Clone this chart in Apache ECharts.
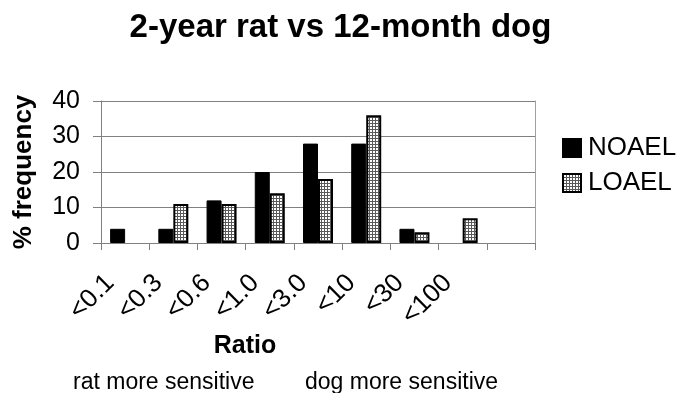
<!DOCTYPE html>
<html>
<head>
<meta charset="utf-8">
<script src="https://cdn.jsdelivr.net/npm/echarts@6/dist/echarts.min.js"></script>
<style>
  html, body { margin: 0; padding: 0; background: #fff; }
  #chart { width: 681px; height: 393px; }
</style>
</head>
<body>
<div id="chart"></div>
<script>
// Ratio bins (the last slot is an unlabelled empty bin)
const categories = ['<0.1', '<0.3', '<0.6', '<1.0', '<3.0', '<10', '<30', '<100', ''];
// % frequency per bin
const noael = [4, 4, 12, 20, 28, 28, 4, 0, null];
const loael = [0, 11, 11, 14, 18, 36, 3, 7, null];
const yTicks = { min: 0, max: 40, interval: 10 };

// Fine mesh fill used for the LOAEL bars
function meshPattern() {
  const c = document.createElement('canvas');
  c.width = 3; c.height = 3;
  const g = c.getContext('2d');
  g.fillStyle = '#ffffff';
  g.fillRect(0, 0, 3, 3);
  g.fillStyle = '#5a5a5a';
  g.fillRect(0, 0, 3, 1);
  g.fillRect(0, 0, 1, 3);
  return { image: c, repeat: 'repeat' };
}

// Zero-height bars get no outline so nothing is drawn for them
function barData(values) {
  return values.map(v => (v === 0 ? { value: 0, itemStyle: { borderWidth: 0 } } : v));
}

const font = '"Liberation Sans", Arial, Helvetica, sans-serif';
const chart = echarts.init(document.getElementById('chart'), null, { renderer: 'canvas' });

chart.setOption({
  animation: false,
  backgroundColor: '#ffffff',
  textStyle: { fontFamily: font, color: '#000' },
  grid: { left: 101, right: 146, top: 101, bottom: 150, containLabel: false },
  legend: {
    orient: 'vertical',
    left: 557,
    top: 130,
    itemWidth: 18,
    itemHeight: 18,
    itemGap: 9,
    icon: 'rect',
    textStyle: { fontFamily: font, fontSize: 26, color: '#000', padding: [0, 0, 0, 2] },
    data: ['NOAEL', 'LOAEL']
  },
  xAxis: {
    type: 'category',
    data: categories,
    boundaryGap: true,
    axisLine: { show: true, lineStyle: { color: '#808080', width: 1 } },
    axisTick: { show: true, alignWithLabel: false, interval: 0, length: 7, lineStyle: { color: '#808080' } },
    axisLabel: { interval: 0, rotate: 45, fontSize: 26, margin: 21, padding: [0, 21, 0, 0], color: '#000', fontFamily: font },
    splitLine: { show: false }
  },
  yAxis: [
    {
      type: 'value',
      min: yTicks.min, max: yTicks.max, interval: yTicks.interval,
      name: '% frequency',
      nameLocation: 'middle',
      nameRotate: 90,
      nameGap: 64,
      nameTextStyle: { fontFamily: font, fontSize: 26, fontWeight: 'bold', color: '#000' },
      axisLine: { show: true, lineStyle: { color: '#808080', width: 1 } },
      axisTick: { show: true, length: 8, inside: false, lineStyle: { color: '#808080' } },
      axisLabel: { fontSize: 25, margin: 21, color: '#000', fontFamily: font },
      splitLine: { show: true, lineStyle: { color: '#808080', width: 1 } }
    },
    {
      type: 'value',
      position: 'right',
      min: yTicks.min, max: yTicks.max, interval: yTicks.interval,
      axisLine: { show: true, lineStyle: { color: '#a0a0a0', width: 1 } },
      axisTick: { show: false },
      axisLabel: { show: false },
      splitLine: { show: false }
    }
  ],
  series: [
    {
      name: 'NOAEL',
      type: 'bar',
      data: barData(noael),
      barWidth: 15,
      barGap: '0%',
      itemStyle: { color: '#000000', borderColor: '#000000', borderWidth: 1 }
    },
    {
      name: 'LOAEL',
      type: 'bar',
      data: barData(loael),
      barWidth: 15,
      barGap: '0%',
      itemStyle: { color: meshPattern(), borderColor: '#000000', borderWidth: 2 }
    }
  ],
  graphic: [
    {
      type: 'text', left: 'center', top: 11,
      style: { text: '2-year rat vs 12-month dog', fontFamily: font, fontSize: 33, fontWeight: 'bold', fill: '#000' }
    },
    {
      type: 'text', x: 245, y: 346,
      style: { text: 'Ratio', fontFamily: font, fontSize: 25, fontWeight: 'bold', fill: '#000', align: 'center', verticalAlign: 'middle' }
    },
    {
      type: 'text', x: 73, y: 383,
      style: { text: 'rat more sensitive', fontFamily: font, fontSize: 23, fill: '#000', align: 'left', verticalAlign: 'middle' }
    },
    {
      type: 'text', x: 305, y: 383,
      style: { text: 'dog more sensitive', fontFamily: font, fontSize: 23, fill: '#000', align: 'left', verticalAlign: 'middle' }
    }
  ]
});
</script>
</body>
</html>
